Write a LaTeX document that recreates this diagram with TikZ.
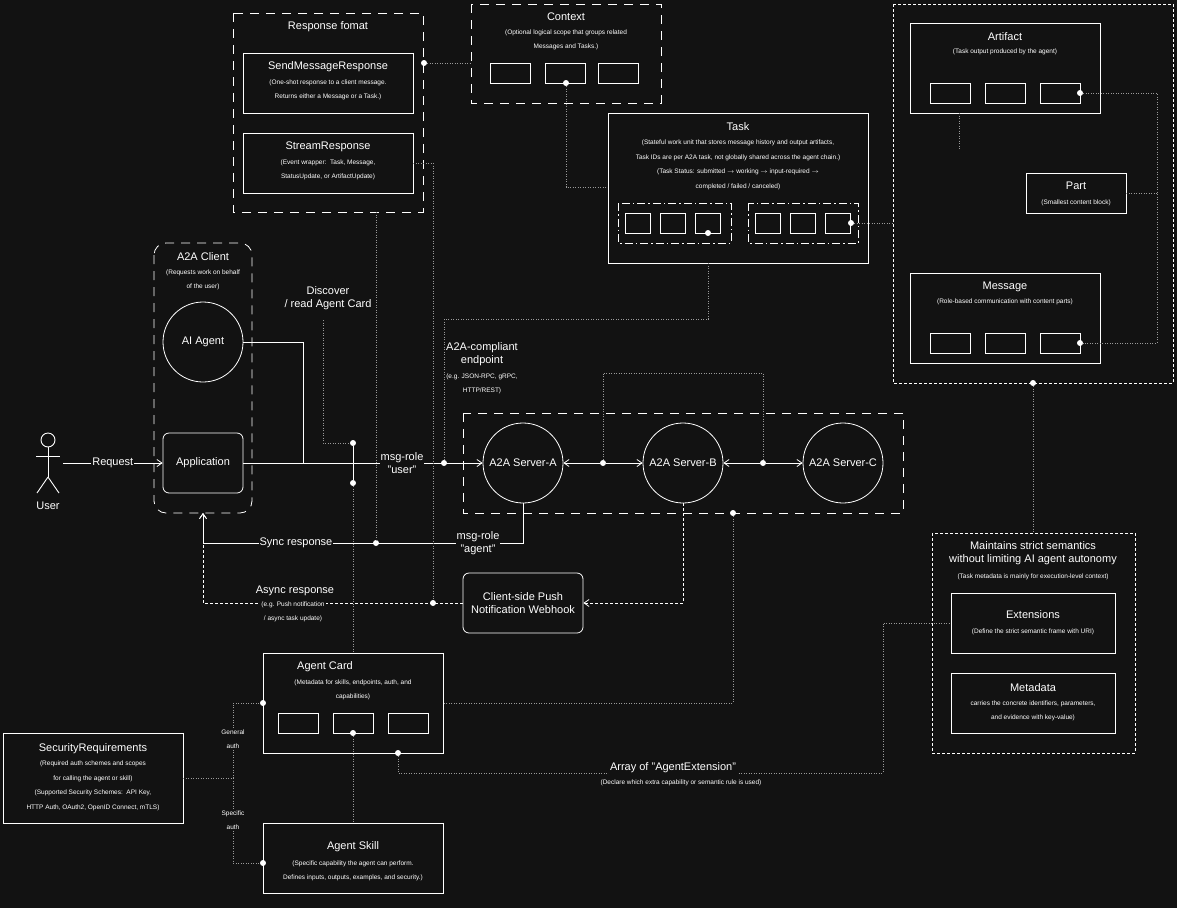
\documentclass[tikz,border=0pt]{standalone}
\usepackage{fontspec}
\setmainfont{Liberation Sans}
\usetikzlibrary{arrows.meta}
\definecolor{bg}{HTML}{121212}
\definecolor{dg}{HTML}{9A9A9A}
\begin{document}
\begin{tikzpicture}[x=1pt,y=-1pt,
  box/.style={draw=white,line width=0.8pt},
  dbox/.style={draw=white,line width=0.8pt,dash pattern=on 9pt off 7pt},
  sdash/.style={draw=white,line width=0.8pt,dash pattern=on 3pt off 2pt},
  dd/.style={draw=white,line width=0.7pt,dash pattern=on 8pt off 3pt on 1.5pt off 3pt},
  dot/.style={draw=dg,line width=0.6pt,dash pattern=on 1pt off 1.5pt},
  ln/.style={draw=white,line width=0.8pt},
  arr/.style={-{Straight Barb[length=5pt,width=7pt]}},
  pt/.style={circle,fill=white,inner sep=0pt,minimum size=6pt},
  T/.style={text=white,font=\fontsize{11}{13}\selectfont,align=center},
  S/.style={text=white,font=\fontsize{6.5}{14.5}\selectfont,align=center},
  sb/.style={draw=white,line width=0.8pt,minimum width=40pt,minimum height=20pt,inner sep=0pt},
  ss/.style={draw=white,line width=0.8pt,minimum width=25pt,minimum height=20pt,inner sep=0pt},
  circ/.style={circle,draw=white,line width=0.8pt,minimum size=80pt,inner sep=0pt,text=white,font=\fontsize{11}{13}\selectfont}]
\fill[bg] (0,0) rectangle (1177,908);
\useasboundingbox (0,0) rectangle (1177,908);

% Response format
\draw[dbox] (233,13) rectangle (423,212);
\node[T] (rft) at (328,27) {Response fomat};
\draw[box] (243,53) rectangle (413,113);
\node[T] (smr) at (328,67) {SendMessageResponse};
\node[S] (smrs) at (328,90) {(One-shot response to a client message.\\Returns either a Message or a Task.)};
\draw[box] (243,133) rectangle (413,193);
\node[T] (srt) at (328,147) {StreamResponse};
\node[S] (srs) at (328,170) {(Event wrapper:\ \ Task, Message,\\StatusUpdate, or ArtifactUpdate)};

% Context
\draw[dbox] (471,4) rectangle (661,103);
\node[T] (ctx) at (566,17) {Context};
\node[S] (ctxs) at (566,40) {(Optional logical scope that groups related\\Messages and Tasks.)};
\node[sb] (c1) at (510,73) {};\node[sb] (c2) at (565,73) {};\node[sb] (c3) at (618,73) {};
\node[pt] (pc1) at (424,63) {};
\draw[dot] (pc1) -- (471,63);
\node[pt] (pc2) at (566,83) {};
\draw[dot] (pc2) -- (566,187) -- (608,187);

% Task
\draw[box] (608,113) rectangle (868,263);
\node[T] (task) at (738,127) {Task};
\node[S] (tasks) at (738,165) {(Stateful work unit that stores message history and output artifacts,\\Task IDs are per A2A task, not globally shared across the agent chain.)\\(Task Status: submitted $\rightarrow$ working $\rightarrow$ input-required $\rightarrow$\\completed / failed / canceled)};
\draw[dd] (618,203) rectangle (731,243);
\draw[dd] (748,203) rectangle (858,243);
\node[ss] at (638,223) {};\node[ss] at (673,223) {};\node[ss] at (708,223) {};
\node[ss] at (768,223) {};\node[ss] at (803,223) {};\node[ss] at (838,223) {};
\node[pt] (pt1) at (708,233) {};
\node[pt] (pt2) at (851,223) {};
\draw[dot] (pt2) -- (893,223);
\draw[dot] (708,263) -- (708,319) -- (444,319) -- (444,463);

% Big data box
\draw[sdash] (893,4) rectangle (1173,383);
\draw[box] (910,23) rectangle (1100,113);
\node[T] (art) at (1005,37) {Artifact};
\node[S] (arts) at (1005,52) {(Task output produced by the agent)};
\node[sb] at (950,93) {};\node[sb] at (1005,93) {};\node[sb] at (1060,93) {};
\node[pt] (pa) at (1080,93) {};
\draw[box] (1026,173) rectangle (1126,213);
\node[T] (part) at (1076,186) {Part};
\node[S] (parts) at (1076,203) {(Smallest content block)};
\draw[box] (910,273) rectangle (1100,363);
\node[T] (msg) at (1005,287) {Message};
\node[S] (msgs) at (1005,302) {(Role-based communication with content parts)};
\node[sb] at (950,343) {};\node[sb] at (1005,343) {};\node[sb] at (1060,343) {};
\node[pt] (pm) at (1080,343) {};
\draw[dot] (pa) -- (1157,93) -- (1157,343) -- (pm);
\draw[dot] (1126,193) -- (1157,193);
\draw[dot] (959,113) -- (959,150);
\node[pt] (pb) at (1033,383) {};
\draw[dot] (pb) -- (1033,533);

% A2A client
\draw[white,line width=0.8pt,dash pattern=on 9pt off 7pt,rounded corners=12pt] (154,243) rectangle (252,513);
\node[T] (clt) at (203,257) {A2A Client};
\node[S] (clts) at (203,280) {(Requests work on behalf\\of the user)};
\node[circ] (ai) at (203,342) {AI Agent};
\node[draw=white,line width=0.8pt,rounded corners=6pt,minimum width=80pt,minimum height=60pt,T] (app) at (203,463) {Application};

% User
\begin{scope}[white,line width=0.9pt]
\draw (48,440) circle (7);
\draw (48,447) -- (48,477);
\draw (36,456) -- (60,456);
\draw (48,477) -- (37,493);
\draw (48,477) -- (59,493);
\end{scope}
\node[T] (user) at (48,506) {User};
\coordinate (ur) at (63,463);
\draw[ln,arr] (ur) -- node[fill=bg,T,inner sep=1pt]{Request} (app.west);

% servers
\draw[dbox] (463,413) rectangle (903,513);
\node[circ] (sa) at (523,463) {A2A Server-A};
\node[circ] (sb) at (683,463) {A2A Server-B};
\node[circ] (sc) at (843,463) {A2A Server-C};
\node[pt] (pab) at (603,463) {};
\node[pt] (pbc) at (763,463) {};
\draw[ln,arr] (pab) -- (sa.east);
\draw[ln,arr] (pab) -- (sb.west);
\draw[ln,arr] (pbc) -- (sb.east);
\draw[ln,arr] (pbc) -- (sc.west);
\draw[dot] (pab) -- (603,373) -- (763,373) -- (pbc);
\node[T] (ep) at (482,354) {A2A-compliant\\endpoint};
\node[S] (eps) at (482,384) {(e.g. JSON-RPC, gRPC,\\HTTP/REST)};

% client to server
\draw[ln] (ai.east) -- (303,342) -- (303,463);
\node[pt] (pu) at (444,463) {};
\draw[ln,arr] (app.east) -- (sa.west);
\node[fill=bg,T,inner sep=1pt] (mru) at (402,463) {msg-role\\"user"};
\node[pt] (d1) at (353,443) {};
\node[pt] (d2) at (353,483) {};
\draw[ln] (d1) -- (d2);
\node[T] (disc) at (328,298) {Discover\\/ read Agent Card};
\draw[dot] (323,320) -- (323,443) -- (d1);

% sync response
\node[pt] (ps) at (376,543) {};
\draw[ln,arr] (sa.south) -- (523,543) -- (203,543) -- (203,513);
\node[fill=bg,T,inner sep=1pt] (sync) at (296,543) {Sync response};
\node[fill=bg,T,inner sep=1pt] (mra) at (478,543) {msg-role\\"agent"};
\draw[dot] (376,212) -- (ps);
\draw[dot] (413,163) -- (433,163) -- (433,603);

% webhook / async
\node[draw=white,line width=0.8pt,rounded corners=6pt,minimum width=120pt,minimum height=60pt,T] (wh) at (523,603) {Client-side Push\\Notification Webhook};
\draw[sdash,arr] (sb.south) -- (683,603) -- (wh.east);
\node[pt] (pw) at (433,603) {};
\draw[sdash,arr] (wh.west) -- (203,603) -- (203,513);
\node[fill=bg,T,inner sep=1pt] (asy) at (295,591) {Async response};
\node[S,fill=bg,inner sep=1pt] (asys) at (293,612) {(e.g. Push notification\\/ async task update)};

% Agent card
\draw[box] (263,653) rectangle (443,753);
\node[T] (ac) at (325,667) {Agent Card};
\node[S] (acs) at (353,690) {(Metadata for skills, endpoints, auth, and\\capabilities)};
\node[sb] at (298,723) {};\node[sb] at (353,723) {};\node[sb] at (408,723) {};
\node[pt] (pac) at (353,733) {};
\draw[dot] (d2) -- (353,653);
\draw[dot] (pac) -- (353,823);
\node[pt] (pc) at (733,513) {};
\draw[dot] (pc) -- (733,703) -- (443,703);
\node[pt] (pg) at (263,703) {};
\node[pt] (psk) at (263,863) {};
\node[pt] (pext) at (398,753) {};

% Security
\draw[box] (3,733) rectangle (183,823);
\node[T] (sec) at (93,749) {SecurityRequirements};
\node[S] (secs) at (93,786) {(Required auth schemes and scopes\\for calling the agent or skill)\\(Supported Security Schemes:\ \ API Key,\\HTTP Auth, OAuth2, OpenID Connect, mTLS)};
\draw[dot] (183,778) -- (233,778) -- (233,703) -- (pg);
\draw[dot] (233,778) -- (233,863) -- (psk);
\node[S,fill=bg,inner sep=1pt] (ga) at (233,739) {General\\auth};
\node[S,fill=bg,inner sep=1pt] (sa2) at (233,820) {Specific\\auth};

% Agent skill
\draw[box] (263,823) rectangle (443,893);
\node[T] (ask) at (353,847) {Agent Skill};
\node[S] (asks) at (353,871) {(Specific capability the agent can perform.\\Defines inputs, outputs, examples, and security.)};

% Maintains
\draw[sdash] (932,533) rectangle (1135,753);
\node[T] (mt) at (1033,553) {Maintains strict semantics\\without limiting AI agent autonomy};
\node[S] (mts) at (1033,577) {(Task metadata is mainly for execution-level context)};
\draw[box] (951,593) rectangle (1115,653);
\node[T] (ext) at (1033,615) {Extensions};
\node[S] (exts) at (1033,632) {(Define the strict semantic frame with URI)};
\draw[box] (951,673) rectangle (1115,733);
\node[T] (md) at (1033,688) {Metadata};
\node[S] (mds) at (1033,711) {carries the concrete identifiers, parameters,\\and evidence with key-value)};
\draw[dot] (pext) -- (398,773) -- (883,773) -- (883,623) -- (951,623);
\node[T,fill=bg,inner sep=1pt] (ae) at (673,768) {Array of "AgentExtension"};
\node[S] (aes) at (681,783) {(Declare which extra capability or semantic rule is used)};
\end{tikzpicture}
\end{document}
